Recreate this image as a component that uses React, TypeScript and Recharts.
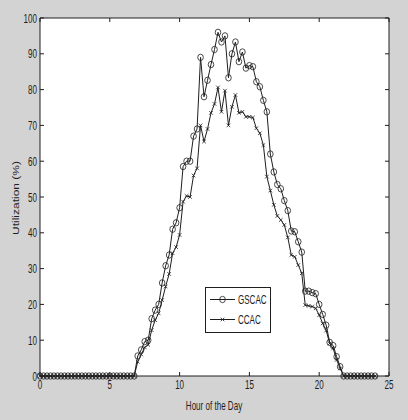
import React from 'react';
import { LineChart, Line, XAxis, YAxis, CartesianGrid, Legend } from 'recharts';

const hours = [
  0, 0.25, 0.5, 0.75, 1, 1.25, 1.5, 1.75, 2, 2.25, 2.5, 2.75, 3, 3.25, 3.5, 3.75,
  4, 4.25, 4.5, 4.75, 5, 5.25, 5.5, 5.75, 6, 6.25, 6.5, 6.75, 7, 7.25, 7.5, 7.75,
  8, 8.25, 8.5, 8.75, 9, 9.25, 9.5, 9.75, 10, 10.25, 10.5, 10.75, 11, 11.25, 11.5, 11.75,
  12, 12.25, 12.5, 12.75, 13, 13.25, 13.5, 13.75, 14, 14.25, 14.5, 14.75, 15, 15.25, 15.5, 15.75,
  16, 16.25, 16.5, 16.75, 17, 17.25, 17.5, 17.75, 18, 18.25, 18.5, 18.75, 19, 19.25, 19.5, 19.75,
  20, 20.25, 20.5, 20.75, 21, 21.25, 21.5, 21.75, 22, 22.25, 22.5, 22.75, 23, 23.25, 23.5, 23.75, 24,
];

const gscac = [
  0, 0, 0, 0, 0, 0, 0, 0, 0, 0, 0, 0, 0, 0, 0, 0,
  0, 0, 0, 0, 0, 0, 0, 0, 0, 0, 0, 0, 5.6, 7.3, 9.6, 10,
  16, 18.4, 20, 26, 30.8, 33.8, 41, 42.8, 47, 58.5, 60, 60, 67, 69, 89, 78,
  82.6, 87, 91.2, 96, 93.3, 95, 83.3, 90, 93.3, 87.8, 90.5, 86, 86.7, 86.4, 82.2, 80.8,
  77, 73.8, 62, 57, 53.5, 52.3, 49, 46.2, 40.5, 40.3, 37.5, 34.6, 23.7, 23.7, 23.3, 23,
  20, 17.2, 14.2, 9.4, 8.5, 5.4, 2.6, 0, 0, 0, 0, 0, 0, 0, 0, 0, 0,
];

const ccac = [
  0, 0, 0, 0, 0, 0, 0, 0, 0, 0, 0, 0, 0, 0, 0, 0,
  0, 0, 0, 0, 0, 0, 0, 0, 0, 0, 0, 0, 4, 6, 8, 8.7,
  12.8, 15.6, 17.5, 21.2, 25, 28.5, 34.3, 36, 39.4, 48.7, 50.3, 50, 56, 58, 70, 65.5,
  69, 73.5, 76, 80.6, 73.8, 79.7, 70, 75.2, 78.5, 73.5, 73.8, 72.4, 72.4, 72.2, 69.2, 67.8,
  64.5, 55.7, 51.8, 47.8, 44.7, 43.6, 42.2, 38.7, 33.8, 33.3, 31, 28.7, 19.8, 19.6, 19.4, 18.9,
  17, 14.7, 12.7, 9.1, 7.7, 4.5, 2.1, 0, 0, 0, 0, 0, 0, 0, 0, 0, 0,
];

const xTicks = [0, 5, 10, 15, 20, 25];
const yTicks = [0, 10, 20, 30, 40, 50, 60, 70, 80, 90, 100];
const seriesNames = ['GSCAC', 'CCAC'];

const data = hours.map((h, i) => ({ hour: h, gscac: gscac[i], ccac: ccac[i] }));

const FONT = '"Liberation Sans", Arial, sans-serif';
const INK = '#1e1e1e';
const SQ = 0.62;

const XTick = (props: any) => {
  const { x, y, payload } = props;
  return (
    <text
      transform={`translate(${x},${y}) scale(${SQ},1)`}
      textAnchor="middle"
      dy="0.71em"
      fontFamily={FONT}
      fontSize={13}
      fill={INK}
    >
      {payload.value}
    </text>
  );
};

const YTick = (props: any) => {
  const { x, y, payload } = props;
  return (
    <text
      transform={`translate(${x},${y}) scale(${SQ},1)`}
      textAnchor="end"
      dy="0.36em"
      fontFamily={FONT}
      fontSize={13}
      fill={INK}
    >
      {payload.value}
    </text>
  );
};

const EmptyTick = () => <g />;

const CircleDot = (props: any) => {
  const { cx, cy, index } = props;
  if (cx == null || cy == null) return <g key={`c-${index}`} />;
  return <ellipse key={`c-${index}`} cx={cx} cy={cy} rx={2.8} ry={3.2} fill="none" stroke={INK} strokeWidth={0.8} />;
};

const CrossDot = (props: any) => {
  const { cx, cy, index } = props;
  if (cx == null || cy == null) return <g key={`x-${index}`} />;
  const s = 1.8;
  return (
    <path
      key={`x-${index}`}
      d={`M${cx - s},${cy - s}L${cx + s},${cy + s}M${cx - s},${cy + s}L${cx + s},${cy - s}`}
      stroke={INK}
      strokeWidth={0.8}
      fill="none"
    />
  );
};

const LegendBox = () => (
  <svg width={66} height={46} style={{ display: 'block' }}>
    <rect x={0.5} y={0.5} width={65} height={45} fill="#fff" stroke={INK} strokeWidth={1} />
    <line x1={5} y1={12.5} x2={30} y2={12.5} stroke={INK} strokeWidth={1} />
    <ellipse cx={17.5} cy={12.5} rx={2.8} ry={3.2} fill="none" stroke={INK} strokeWidth={0.8} />
    <text transform={`translate(33,12.5) scale(${SQ},1)`} dy="0.36em" fontFamily={FONT} fontSize={13} fill={INK}>
      {seriesNames[0]}
    </text>
    <line x1={5} y1={32.5} x2={30} y2={32.5} stroke={INK} strokeWidth={1} />
    <path d="M15.7,30.7L19.3,34.3M15.7,34.3L19.3,30.7" stroke={INK} strokeWidth={0.8} />
    <text transform={`translate(33,32.5) scale(${SQ},1)`} dy="0.36em" fontFamily={FONT} fontSize={13} fill={INK}>
      {seriesNames[1]}
    </text>
  </svg>
);

export default function App() {
  return (
    <div style={{ position: 'absolute', left: 0, top: 0, width: 408, height: 420, background: '#d3d3d3' }}>
      <LineChart
        width={408}
        height={420}
        data={data}
        margin={{ top: 17, right: 18, bottom: 14, left: 10 }}
      >
        <CartesianGrid fill="#ffffff" horizontal={false} vertical={false} />
        <XAxis
          dataKey="hour"
          type="number"
          domain={[0, 25]}
          ticks={xTicks}
          interval={0}
          height={30}
          tickSize={-4}
          tickMargin={8}
          axisLine={{ stroke: INK }}
          tickLine={{ stroke: INK }}
          tick={<XTick />}
          label={{ value: 'Hour of the Day', position: 'insideBottom', offset: 0, content: () => (
            <text
              transform={`translate(214,405) scale(${SQ},1)`}
              textAnchor="middle"
              dy="0.36em"
              fontFamily={FONT}
              fontSize={13}
              fill={INK}
            >
              Hour of the Day
            </text>
          ) }}
        />
        <XAxis
          xAxisId="top"
          dataKey="hour"
          orientation="top"
          type="number"
          domain={[0, 25]}
          ticks={xTicks}
          interval={0}
          height={1}
          tickSize={-4}
          tickMargin={0}
          tick={<EmptyTick />}
          axisLine={{ stroke: INK }}
          tickLine={{ stroke: INK }}
        />
        <YAxis
          type="number"
          domain={[0, 100]}
          ticks={yTicks}
          interval={0}
          width={30}
          tickSize={-4}
          tickMargin={7}
          axisLine={{ stroke: INK }}
          tickLine={{ stroke: INK }}
          tick={<YTick />}
          label={{ value: 'Utilization (%)', content: () => (
            <text
              transform={`translate(15.5,198) rotate(-90) scale(1,0.7)`}
              textAnchor="middle"
              dy="0.36em"
              fontFamily={FONT}
              fontSize={12}
              fill={INK}
            >
              Utilization (%)
            </text>
          ) }}
        />
        <YAxis
          yAxisId="right"
          orientation="right"
          type="number"
          domain={[0, 100]}
          ticks={yTicks}
          interval={0}
          width={1}
          tickSize={-4}
          tickMargin={0}
          tick={<EmptyTick />}
          axisLine={{ stroke: INK }}
          tickLine={{ stroke: INK }}
        />
        <Legend
          layout="horizontal"
          verticalAlign="middle"
          align="center"
          content={() => <LegendBox />}
          wrapperStyle={{ left: 205, top: 287, width: 66, height: 46 }}
        />
        <Line
          xAxisId="top"
          yAxisId="right"
          dataKey="gscac"
          stroke="none"
          strokeWidth={0}
          dot={false}
          activeDot={false}
          legendType="none"
          isAnimationActive={false}
        />
        <Line
          dataKey="gscac"
          name={seriesNames[0]}
          stroke={INK}
          strokeWidth={1}
          dot={CircleDot}
          activeDot={false}
          isAnimationActive={false}
        />
        <Line
          dataKey="ccac"
          name={seriesNames[1]}
          stroke={INK}
          strokeWidth={1}
          dot={CrossDot}
          activeDot={false}
          isAnimationActive={false}
        />
      </LineChart>
    </div>
  );
}
